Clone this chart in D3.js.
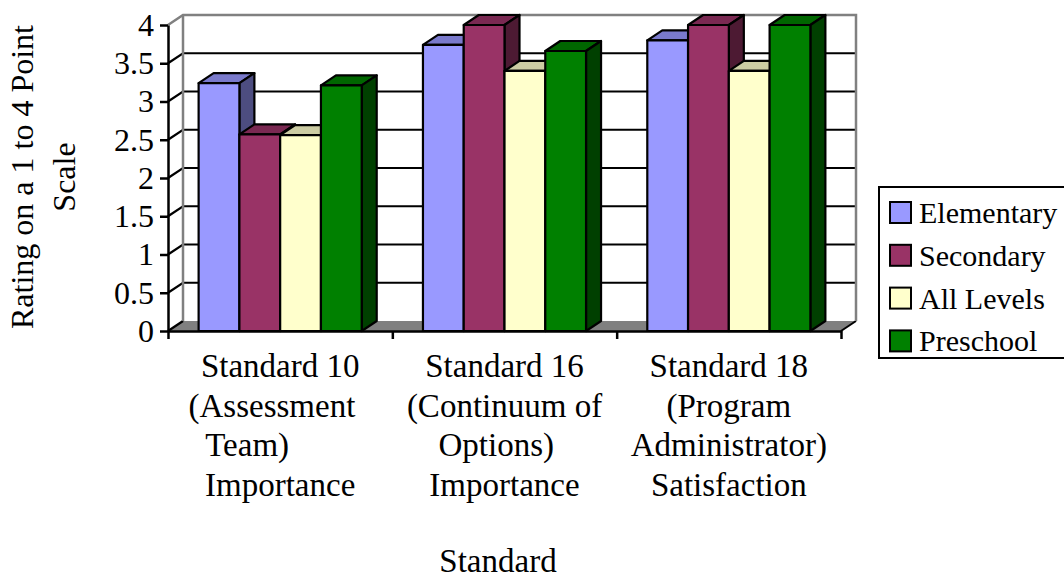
<!DOCTYPE html>
<html>
<head>
<meta charset="utf-8">
<script src="https://cdn.jsdelivr.net/npm/d3@7"></script>
<style>
  html, body { margin: 0; padding: 0; background: #fff; }
  svg { display: block; }
  text { font-family: "Liberation Serif", "Times New Roman", serif; fill: #000; }
</style>
</head>
<body>
<svg id="chart" width="1064" height="578"></svg>
<script>
// ---- data ----
const categories = ["Standard 10", "Standard 16", "Standard 18"];
const categoryLines = [
  ["Standard 10", "(Assessment  ", "Team)        ", "Importance"],
  ["Standard 16", "(Continuum of", "Options)  ", "Importance"],
  ["Standard 18", "(Program", "Administrator)", "Satisfaction"]
];
const seriesNames = ["Elementary", "Secondary", "All Levels", "Preschool"];
const elementary = [3.24, 3.74, 3.80];
const secondary  = [2.57, 4.00, 4.00];
const allLevels  = [2.56, 3.40, 3.40];
const preschool  = [3.21, 3.66, 4.00];
const seriesColors = ["#9999FF", "#993366", "#FFFFCC", "#008000"];
const yTicks = [0, 0.5, 1, 1.5, 2, 2.5, 3, 3.5, 4];
const yTitleLines = ["Rating on a 1 to 4 Point", "Scale"];
const xTitle = "Standard";

const seriesValues = [elementary, secondary, allLevels, preschool];

// ---- layout ----
const svg = d3.select("#chart");
const left = 168, right = 841, floorY = 331, topY = 25;
const dx = 15, dy = 10;            // depth offset of the 3-D box
const gridColor = "#808080";

const y = d3.scaleLinear().domain([0, 4]).range([floorY, topY]);
const x = d3.scaleBand().domain(categories).range([left, right])
  .paddingInner(0.273).paddingOuter(0.1365);
const xs = d3.scaleBand().domain(seriesNames).range([0, x.bandwidth()]).padding(0);
const xb = d3.scaleLinear().domain([0, categories.length]).range([left, right]);

const shade = (c, k) => { const r = d3.rgb(c); return d3.rgb(r.r * k, r.g * k, r.b * k).formatHex(); };
const pts = a => a.map(p => p.join(",")).join(" ");

// floor
svg.append("polygon")
  .attr("points", pts([[left, y(0)], [right, y(0)], [right + dx, y(0) - dy], [left + dx, y(0) - dy]]))
  .attr("fill", "#808080");
svg.append("line").attr("x1", right).attr("y1", y(0)).attr("x2", right + dx).attr("y2", y(0) - dy)
  .attr("stroke", "#000").attr("stroke-width", 2);

// back wall gridlines with their slanted side-wall segments
const gridG = svg.append("g");
yTicks.filter(t => t > 0 && t < 4).forEach(t => {
  gridG.append("polyline")
    .attr("points", pts([[left, y(t)], [left + dx, y(t) - dy], [right + dx, y(t) - dy]]))
    .attr("fill", "none").attr("stroke", "#000").attr("stroke-width", 2.2);
});
gridG.append("line").attr("x1", left).attr("y1", y(0)).attr("x2", left + dx).attr("y2", y(0) - dy)
  .attr("stroke", "#000").attr("stroke-width", 2.2);
// wall outline
svg.append("polyline")
  .attr("points", pts([[left, y(4)], [left + dx, y(4) - dy], [right + dx, y(4) - dy], [right + dx, y(0) - dy]]))
  .attr("fill", "none").attr("stroke", gridColor).attr("stroke-width", 2.5);
svg.append("line").attr("x1", left + dx).attr("y1", y(4) - dy).attr("x2", left + dx).attr("y2", y(0) - dy)
  .attr("stroke", gridColor).attr("stroke-width", 2.5);

// bars (left to right so each front face covers the previous side face)
const barG = svg.append("g").attr("stroke", "#000").attr("stroke-width", 2.2).attr("stroke-linejoin", "round");
categories.forEach((cat, ci) => {
  seriesNames.forEach((s, si) => {
    const v = seriesValues[si][ci];
    const x0 = x(cat) + xs(s), w = xs.bandwidth();
    const yt = y(v), yb = y(0);
    const col = seriesColors[si];
    barG.append("polygon").attr("fill", shade(col, 0.8))
      .attr("points", pts([[x0, yt], [x0 + dx, yt - dy], [x0 + w + dx, yt - dy], [x0 + w, yt]]));
    barG.append("polygon").attr("fill", shade(col, 0.5))
      .attr("points", pts([[x0 + w, yt], [x0 + w + dx, yt - dy], [x0 + w + dx, yb - dy], [x0 + w, yb]]));
    barG.append("rect").attr("fill", col)
      .attr("x", x0).attr("y", yt).attr("width", w).attr("height", yb - yt);
  });
});

// y axis
const yAxis = svg.append("g").attr("transform", `translate(${left},0)`)
  .call(d3.axisLeft(y).tickValues(yTicks).tickSize(8).tickSizeOuter(0).tickPadding(6).tickFormat(d3.format("")));
yAxis.selectAll("path, line").attr("stroke", "#000").attr("stroke-width", 2.5);
yAxis.selectAll("text").attr("font-size", 32).attr("font-family", "Liberation Serif").attr("fill", "#000");

// x axis (ticks between categories)
const xAxis = svg.append("g").attr("transform", `translate(0,${floorY})`)
  .call(d3.axisBottom(xb).tickValues(d3.range(categories.length + 1)).tickSize(8).tickSizeOuter(0).tickFormat(""));
xAxis.selectAll("path, line").attr("stroke", "#000").attr("stroke-width", 2.5);

// category labels
categories.forEach((cat, ci) => {
  const t = svg.append("text")
    .attr("x", x(cat) + x.bandwidth() / 2).attr("y", 377)
    .attr("text-anchor", "middle").attr("font-size", 33)
    .style("white-space", "pre");
  categoryLines[ci].forEach((ln, li) => {
    t.append("tspan").attr("x", x(cat) + x.bandwidth() / 2).attr("y", 377 + li * 39.5).text(ln);
  });
});

// axis titles
const yt = svg.append("text").attr("transform", "translate(0,177) rotate(-90)")
  .attr("text-anchor", "middle").attr("font-size", 32);
yTitleLines.forEach((ln, i) => yt.append("tspan").attr("x", 0).attr("y", 33 + i * 42).text(ln));

svg.append("text").attr("x", 498).attr("y", 572).attr("text-anchor", "middle")
  .attr("font-size", 33).text(xTitle);

// legend
const lg = svg.append("g");
lg.append("rect").attr("x", 879).attr("y", 187).attr("width", 200).attr("height", 171)
  .attr("fill", "#fff").attr("stroke", "#000").attr("stroke-width", 2);
seriesNames.forEach((s, i) => {
  const cy = 212.5 + i * 42.8;
  lg.append("rect").attr("x", 890).attr("y", cy - 10.5).attr("width", 21).attr("height", 21)
    .attr("fill", seriesColors[i]).attr("stroke", "#000").attr("stroke-width", 2);
  lg.append("text").attr("x", 919).attr("y", cy + 10.5).attr("font-size", 30).text(s);
});
</script>
</body>
</html>
